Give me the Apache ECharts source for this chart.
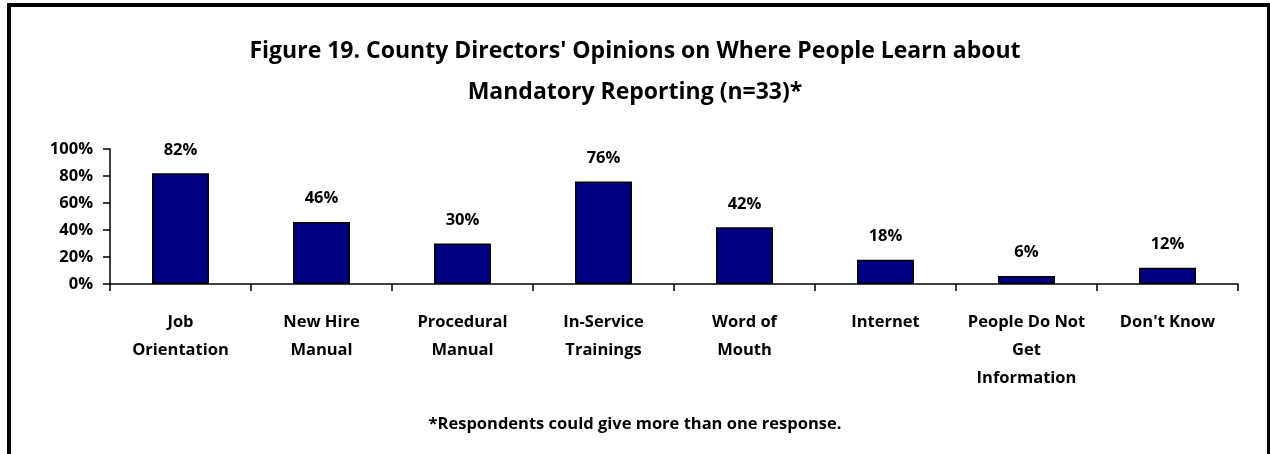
<!DOCTYPE html>
<html>
<head>
<meta charset="utf-8">
<script src="https://cdn.jsdelivr.net/npm/echarts@6/dist/echarts.min.js"></script>
<style>
html,body{margin:0;padding:0;background:#fff;}
#chart{width:1270px;height:454px;}
</style>
</head>
<body>
<div id="chart"></div>
<script>
const titleText = "Figure 19. County Directors' Opinions on Where People Learn about\nMandatory Reporting (n=33)*";
const footnote = "*Respondents could give more than one response.";
const categories = ["Job\nOrientation", "New Hire\nManual", "Procedural\nManual", "In-Service\nTrainings", "Word of\nMouth", "Internet", "People Do Not\nGet\nInformation", "Don't Know"];
const values = [82, 46, 30, 76, 42, 18, 6, 12];
const yTicks = [0, 20, 40, 60, 80, 100];

const FONT = "Open Sans";
const chart = echarts.init(document.getElementById('chart'), null, {renderer: 'canvas'});
chart.setOption({
  animation: false,
  backgroundColor: '#fff',
  title: {
    text: titleText,
    left: 'center',
    top: 26,
    textStyle: {fontFamily: FONT, fontWeight: 'bold', fontSize: 23, color: '#000', lineHeight: 41}
  },
  graphic: [
    {type: 'rect', shape: {x: 9, y: 5, width: 1260, height: 470}, style: {fill: 'none', stroke: '#000', lineWidth: 4}, silent: true},
    {type: 'text', left: 'center', top: 416, style: {text: footnote, fontFamily: FONT, fontWeight: 'bold', fontSize: 16.5, fill: '#000'}}
  ],
  grid: {left: 110, right: 32, top: 149, bottom: 170, containLabel: false},
  xAxis: {
    type: 'category',
    data: categories,
    axisLine: {lineStyle: {color: '#000', width: 1.5}},
    axisTick: {show: true, length: 7, lineStyle: {color: '#000', width: 1.5}},
    axisLabel: {fontFamily: FONT, fontWeight: 'bold', fontSize: 16.5, color: '#000', lineHeight: 28, margin: 24, interval: 0}
  },
  yAxis: {
    type: 'value',
    min: 0, max: 100, interval: 20,
    axisLine: {show: true, lineStyle: {color: '#000', width: 1.5}},
    axisTick: {show: true, length: 7, lineStyle: {color: '#000', width: 1.5}},
    splitLine: {show: false},
    axisLabel: {fontFamily: FONT, fontWeight: 'bold', fontSize: 16.5, color: '#000', margin: 17,
      formatter: function (v) { return yTicks.indexOf(v) >= 0 ? v + '%' : ''; }}
  },
  series: [{
    type: 'bar',
    data: values,
    barWidth: 57,
    itemStyle: {color: '#000080', borderColor: '#000', borderWidth: 1.5},
    label: {show: true, position: 'top', distance: 15, formatter: '{c}%',
      fontFamily: FONT, fontWeight: 'bold', fontSize: 16.5, color: '#000'}
  }]
});
</script>
</body>
</html>
